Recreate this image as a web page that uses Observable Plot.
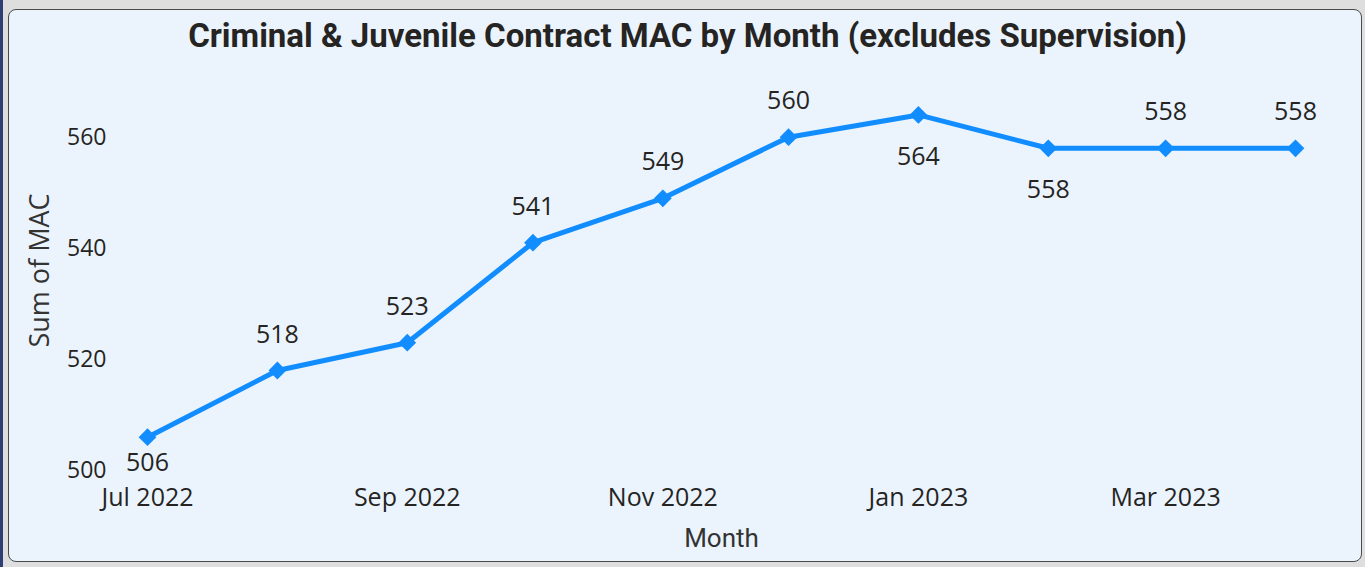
<!DOCTYPE html>
<html><head><meta charset="utf-8">
<script src="https://cdn.jsdelivr.net/npm/d3@7"></script>
<script src="https://cdn.jsdelivr.net/npm/@observablehq/plot@0.6"></script>
<style>
body{margin:0;width:1365px;height:567px;background:#dedede;overflow:hidden;position:relative;font-family:"Open Sans",sans-serif}
#strip{position:absolute;left:0;top:0;width:3px;height:567px;background:#2e3f73}
#panel{position:absolute;left:8px;top:9px;width:1352px;height:551px;background:#EBF4FD;border:1.5px solid #4a4a4a;border-radius:8px}
#title{position:absolute;left:0;width:1375px;top:16px;text-align:center;font:700 33px Roboto,sans-serif;color:#252423}
#chart{position:absolute;left:0;top:60px}
</style></head>
<body>
<div id="strip"></div>
<div id="panel"></div>
<div id="title">Criminal &amp; Juvenile Contract MAC by Month (excludes Supervision)</div>
<div id="chart"></div>
<script>
const months = ["2022-07-01","2022-08-01","2022-09-01","2022-10-01","2022-11-01","2022-12-01","2023-01-01","2023-02-01","2023-03-01","2023-04-01"];
const mac = [506, 518, 523, 541, 549, 560, 564, 558, 558, 558];
const labelSide = ["inside","above","above","above","above","above","below","below","above","above"];
const xTickLabels = ["2022-07-01","2022-09-01","2022-11-01","2023-01-01","2023-03-01"];
const yTicks = [500, 520, 540, 560];

const parse = d3.utcParse("%Y-%m-%d");
const data = months.map((m, i) => ({date: parse(m), value: mac[i], side: labelSide[i]}));
const blue = "#118DFF";
const ink = "#252423";

const labels = (side, dy) => Plot.text(data.filter(d => d.side === side),
  {x: "date", y: "value", text: d => String(d.value), dy, fontSize: 25, fill: ink});

const chart = Plot.plot({
  width: 1365,
  height: 500,
  marginLeft: 147,
  marginRight: 70,
  marginTop: 10,
  marginBottom: 90,
  style: {background: "transparent", fontFamily: "'Open Sans', sans-serif", fontSize: "23px", color: ink},
  x: {type: "utc", domain: [parse(months[0]), parse(months[months.length-1])], label: null},
  y: {domain: [500, 572], label: null},
  marks: [
    Plot.axisX({ticks: xTickLabels.map(parse), tickFormat: d3.utcFormat("%b %Y"), tickSize: 0, tickPadding: 18, fontSize: 25, label: null}),
    Plot.axisY({ticks: yTicks, tickSize: 0, tickPadding: 41, fontSize: 23, label: null}),
    Plot.line(data, {x: "date", y: "value", stroke: blue, strokeWidth: 5}),
    Plot.dot(data, {x: "date", y: "value", symbol: "diamond2", r: 8, fill: blue, stroke: null}),
    labels("above", -36),
    labels("below", 42),
    labels("inside", 26),
    Plot.text(["Month"], {frameAnchor: "bottom", dy: 76, text: d => d, fontSize: 26, fontWeight: 400, fontFamily: "Roboto, sans-serif", fill: "#333"}),
    Plot.text(["Sum of MAC"], {frameAnchor: "left", textAnchor: "middle", dx: -107, rotate: -90, text: d => d, fontSize: 27, fill: "#333"})
  ]
});
document.getElementById("chart").appendChild(chart);
</script>
</body></html>
